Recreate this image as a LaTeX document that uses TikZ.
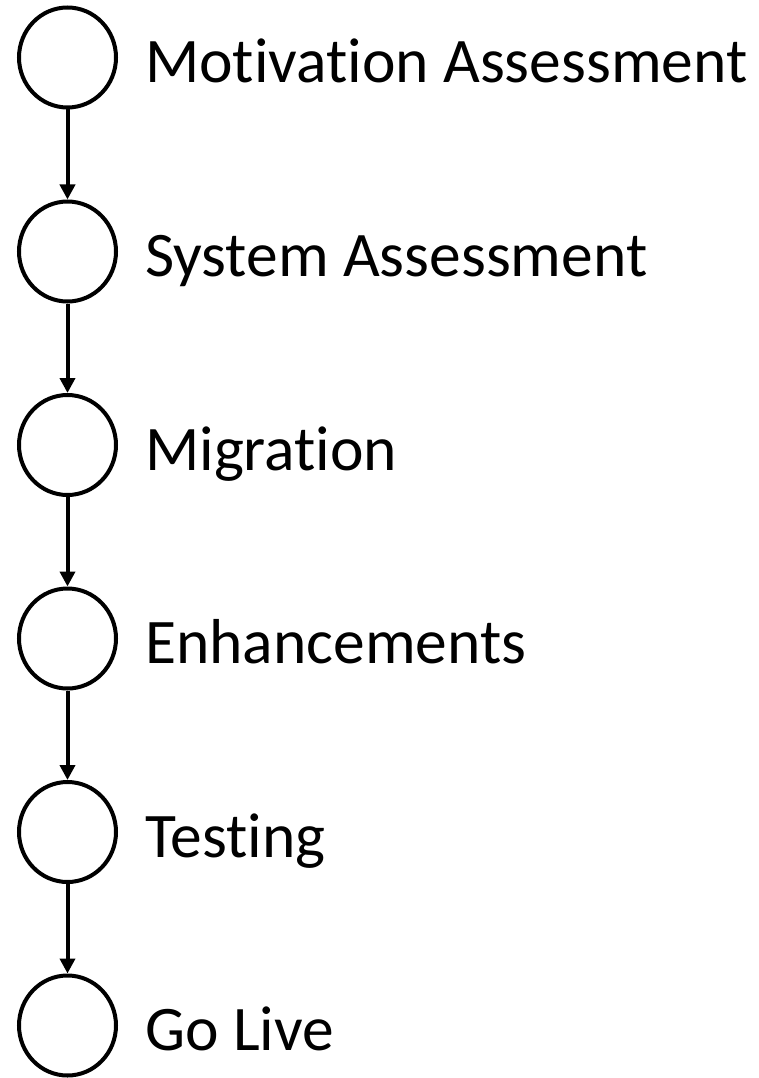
\documentclass[tikz,border=0pt]{standalone}
\usepackage{fontspec}
\setmainfont{Carlito}[RawFeature={-liga}]
\usetikzlibrary{arrows.meta,shapes.geometric}
\begin{document}
\begin{tikzpicture}[x=1pt,y=-1pt,
  stage/.style={ellipse,draw=black,line width=4pt,minimum width=97pt,minimum height=100pt,inner sep=0pt},
  lbl/.style={anchor=base west,font=\fontsize{63.5}{70}\selectfont,inner sep=0pt},
  conn/.style={line width=4pt,-{Triangle[length=15pt,width=15pt]}}]
\useasboundingbox (0,0) rectangle (759,1078);
\foreach \i/\y/\t in {1/57.5/Motivation Assessment,2/251.5/System Assessment,3/445/Migration,4/638.5/Enhancements,5/832/Testing,6/1025.5/Go Live}{
  \node[stage] (c\i) at (67.5,\y) {};
  \node[lbl] (t\i) at (145,\y+25) {\t};
}
\foreach \a/\b in {1/2,2/3,3/4,4/5,5/6}{
  \draw[conn] (c\a.south) -- (c\b.north);
}
\end{tikzpicture}
\end{document}
